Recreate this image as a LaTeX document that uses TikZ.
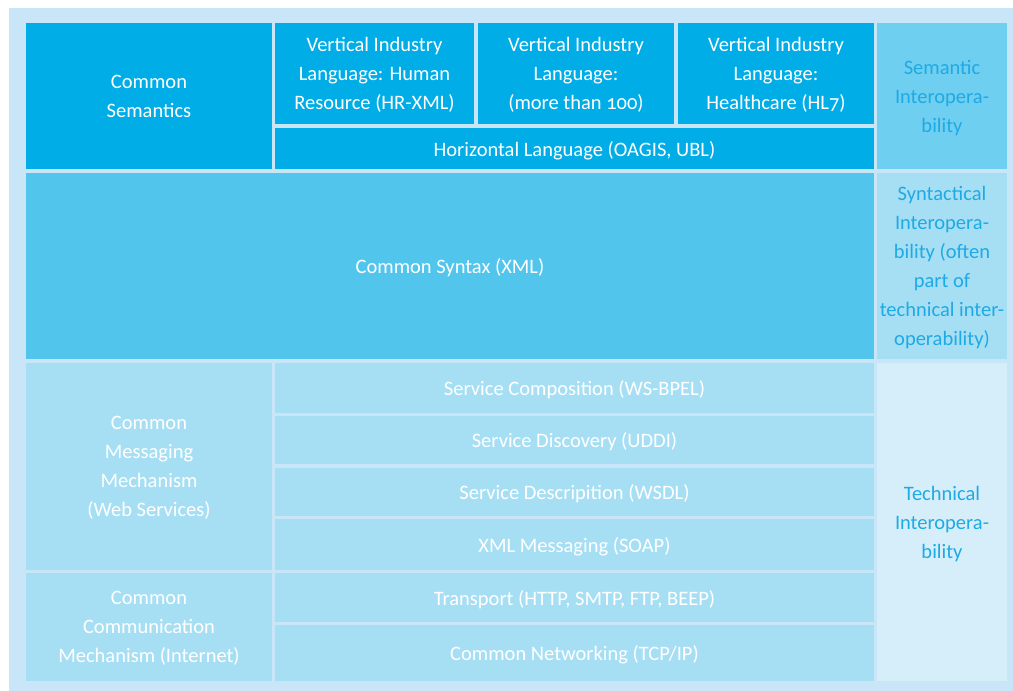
\documentclass[tikz,border=0pt]{standalone}
\usepackage{fontspec}
\setmainfont{Carlito}[Numbers=OldStyle]
\definecolor{deepblue}{RGB}{0,173,231}
\definecolor{midblue}{RGB}{82,197,236}
\definecolor{semblue}{RGB}{111,207,240}
\definecolor{paleblue}{RGB}{166,223,244}
\definecolor{techblue}{RGB}{214,238,249}
\definecolor{frameblue}{RGB}{200,230,247}
\definecolor{labelblue}{RGB}{30,170,228}
\begin{document}
\begin{tikzpicture}[x=1pt, y=-1pt,
    cell/.style ={rectangle, inner sep=0pt, outer sep=0pt, align=center, text=white,
      text depth=0pt, font=\fontsize{20.5}{29}\selectfont},
    semantic/.style ={cell, fill=deepblue},
    syntax/.style ={cell, fill=midblue},
    service/.style ={cell, fill=paleblue, minimum width=599pt},
    interop/.style ={cell, text=labelblue, minimum width=130pt}]
   \useasboundingbox (0,0) rectangle (1013,691);
   \fill[frameblue] (9,8) rectangle (1013,691);

   \node[semantic, minimum width=246pt, minimum height=146pt] (semantics) at (149,96) {Common\\Semantics};
   \node[semantic, minimum width=199pt, minimum height=101pt] (hrxml) at (374.5,73.5) {Vertical Industry\\Language: Human\\Resource (HR-XML)};
   \node[semantic, minimum width=196pt, minimum height=101pt] (many) at (576,73.5) {Vertical Industry\\Language:\\(more than 100)};
   \node[semantic, minimum width=196pt, minimum height=101pt] (hlseven) at (776,73.5) {Vertical Industry\\Language:\\Healthcare (HL7)};
   \node[semantic, minimum width=599pt, minimum height=41pt] (horizontal) at (574.5,148.5) {Horizontal Language (OAGIS, UBL)};
   \node[interop, fill=semblue, minimum height=146pt] (semint) at (942,96) {Semantic\\Interopera-\\bility};

   \node[syntax, minimum width=848pt, minimum height=186pt] (xml) at (450,266) {Common Syntax (XML)};
   \node[interop, fill=paleblue, minimum height=186pt] (synint) at (942,266) {Syntactical\\Interopera-\\bility (often\\part of\\technical inter-\\operability)};

   \node[service, minimum width=246pt, minimum height=207pt] (messaging) at (149,466.5) {Common\\Messaging\\Mechanism\\(Web Services)};
   \node[service, minimum height=50pt] (composition) at (574.5,388) {Service Composition (WS-BPEL)};
   \node[service, minimum height=48pt] (discovery) at (574.5,440) {Service Discovery (UDDI)};
   \node[service, minimum height=48pt] (description) at (574.5,492) {Service Descripition (WSDL)};
   \node[service, minimum height=51pt] (soap) at (574.5,544.5) {XML Messaging (SOAP)};
   \node[service, minimum width=246pt, minimum height=108pt] (communication) at (149,627) {Common\\Communication\\Mechanism (Internet)};
   \node[service, minimum height=49pt] (transport) at (574.5,597.5) {Transport (HTTP, SMTP, FTP, BEEP)};
   \node[service, minimum height=56pt] (networking) at (574.5,653) {Common Networking (TCP/IP)};
   \node[interop, fill=techblue, minimum height=318pt] (techint) at (942,522) {Technical\\Interopera-\\bility};

 \end{tikzpicture}
\end{document}
